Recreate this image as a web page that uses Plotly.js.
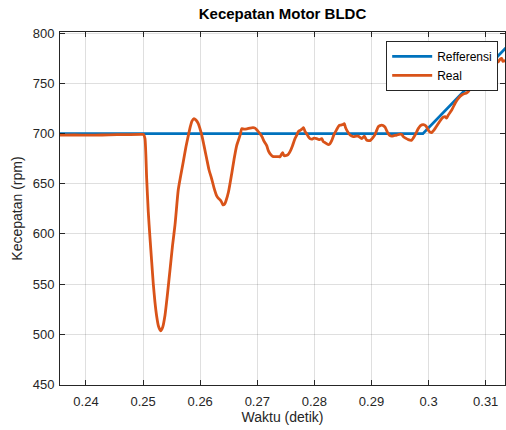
<!DOCTYPE html>
<html>
<head>
<meta charset="utf-8">
<script src="https://cdn.plot.ly/plotly-3.0.1.min.js"></script>
<style>html,body{margin:0;padding:0;background:#fff;}#chart{width:506px;height:430px;}</style>
</head>
<body>
<div id="chart"></div>
<script>
// Reference speed (breakpoints)
const refTime = [0.2354, 0.2990, 0.3136];
const refSpeed = [700, 700, 786];

// Measured speed
const realTime = [
0.2354,0.2380,0.2410,0.2440,0.2470,0.2498,0.2501,
0.25033,0.25063,0.25091,0.25121,0.25151,0.25179,0.25208,0.25238,0.2527,0.25308,0.25343,0.25384,0.25427,0.25471,0.25515,0.25559,0.25616,0.25655,0.25704,0.25751,0.25792,0.25827,0.25856,0.25891,0.25926,0.25967,0.25996,
0.26026,0.26067,0.26114,0.26154,0.26201,0.26242,0.26289,0.26329,0.26356,0.26373,0.26399,0.26426,0.26452,0.26496,0.26552,0.26592,0.26639,0.26685,0.26706,0.26727,0.26767,0.26820,0.26872,0.26925,0.2696,
0.27003,0.27047,0.27082,0.27117,0.27165,0.27193,0.27222,0.27266,0.2731,0.27363,0.27398,0.27424,0.27445,0.27468,0.27495,0.27538,0.27573,0.27617,0.27660,0.27695,0.27718,0.27757,0.27793,0.2781,0.27837,0.27863,0.27894,0.27924,0.27954,0.27994,
0.2804,0.28081,0.28128,0.28156,0.28186,0.28243,0.28273,0.28303,0.28343,0.2839,0.28431,0.28466,0.28501,0.28524,0.28545,0.28571,0.28624,0.28681,0.28729,0.28769,0.28829,0.28874,0.28916,0.28948,0.28974,
0.29018,0.29061,0.29096,0.29119,0.29149,0.29179,0.29202,0.29237,0.29266,0.29294,0.29324,0.29354,0.29394,0.29441,0.29499,0.29534,0.29557,0.29596,0.29645,0.29704,0.29736,0.29762,0.2982,0.29858,0.29907,0.29954,0.29995,
0.30025,0.30054,0.30086,0.30112,0.3017,0.3023,0.30261,0.30287,0.30315,0.30345,0.30405,0.30462,0.30506,0.3055,0.30594,0.30637,0.30664,0.30695,0.30755,0.30812,0.3087,0.30917,0.3097,
0.31023,0.31075,0.31145,0.31221,0.3125,0.3128,0.31303,0.31355
];
const realSpeed = [
698.5,698.6,698.4,698.8,699,699.2,699,
695,655,622,596,572,550,532,518,508,503.5,507,519,540,564,588,609,644,657,672,687,698,707,712.5,715,713.5,710,705,
699,688,675,664,655,646,638,635,633.5,632,629,629.5,633,642,660,674,688,696,700,705,704.5,704.8,705.5,706,705.5,
703,700,697,692.5,688,683,680,677.5,677,677,677,679.5,681,678,678,679,682,688,695,699,702,703.5,705,706,702,700,697,695,694.5,695.5,
695,694,695,692,691,689,690,693,699,704,708,708.5,709,710,706,703,698.6,697,697.5,697.5,695,697.5,693.5,693,693,
695.5,699,704,707,708,708.5,708,706.5,703,700,698,697.5,698,698.5,699.5,699,697,695.5,694,693.5,696,698.5,705,708,709,707.5,703.5,
701.5,701,703,705,710,715,716.5,717,715.5,718.5,723.5,730,734,737,739,740,740.5,742,747,752,758,762,765,
768,770,771,771.7,774,775,772,773
];

const xTickVals = [0.24,0.25,0.26,0.27,0.28,0.29,0.30,0.31];
const xTickText = ['0.24','0.25','0.26','0.27','0.28','0.29','0.3','0.31'];
const yTickVals = [450,500,550,600,650,700,750,800];

const axisColor = '#262626';
const gridColor = 'rgba(38,38,38,0.15)';
const fontFam = '"Liberation Sans", Arial, Helvetica, sans-serif';

const traces = [
  {x: refTime, y: refSpeed, mode: 'lines', name: 'Refferensi', line: {color: '#0072BD', width: 2.8}},
  {x: realTime, y: realSpeed, mode: 'lines', name: 'Real', line: {color: '#D95319', width: 2.8, shape: 'spline', smoothing: 0.6}}
];

const layout = {
  width: 506, height: 430,
  margin: {l: 60, r: 1, t: 32, b: 45},
  paper_bgcolor: '#ffffff', plot_bgcolor: '#ffffff',
  font: {family: fontFam, color: axisColor, size: 13},
  title: {text: '<b>Kecepatan Motor BLDC</b>', font: {family: fontFam, size: 15, color: '#000'}, x: 0.5, xanchor: 'center', y: 0.968, yanchor: 'middle', xref: 'paper'},
  showlegend: true,
  legend: {x: 0.733, y: 0.975, xanchor: 'left', yanchor: 'top', bgcolor: '#ffffff', bordercolor: axisColor, borderwidth: 1, font: {size: 12, color: '#000'}, tracegroupgap: 0, itemwidth: 40},
  xaxis: {
    range: [0.23545, 0.31338], tickvals: xTickVals, ticktext: xTickText,
    showgrid: true, gridcolor: gridColor, gridwidth: 1, zeroline: false,
    showline: true, linecolor: axisColor, linewidth: 1, mirror: 'ticks',
    ticks: 'inside', ticklen: 5, tickcolor: axisColor, ticklabelstandoff: 4,
    tickfont: {size: 13, color: axisColor},
    title: {text: 'Waktu (detik)', font: {size: 14, color: axisColor}, standoff: 4}
  },
  yaxis: {
    range: [449.4, 801.3], tickvals: yTickVals,
    showgrid: true, gridcolor: gridColor, gridwidth: 1, zeroline: false,
    showline: true, linecolor: axisColor, linewidth: 1, mirror: 'ticks',
    ticks: 'inside', ticklen: 5, tickcolor: axisColor, ticklabelstandoff: 2,
    tickfont: {size: 13, color: axisColor},
    title: {text: 'Kecepatan (rpm)', font: {size: 14, color: axisColor}, standoff: 6}
  }
};

Plotly.newPlot('chart', traces, layout, {displayModeBar: false, staticPlot: true});
</script>
</body>
</html>
